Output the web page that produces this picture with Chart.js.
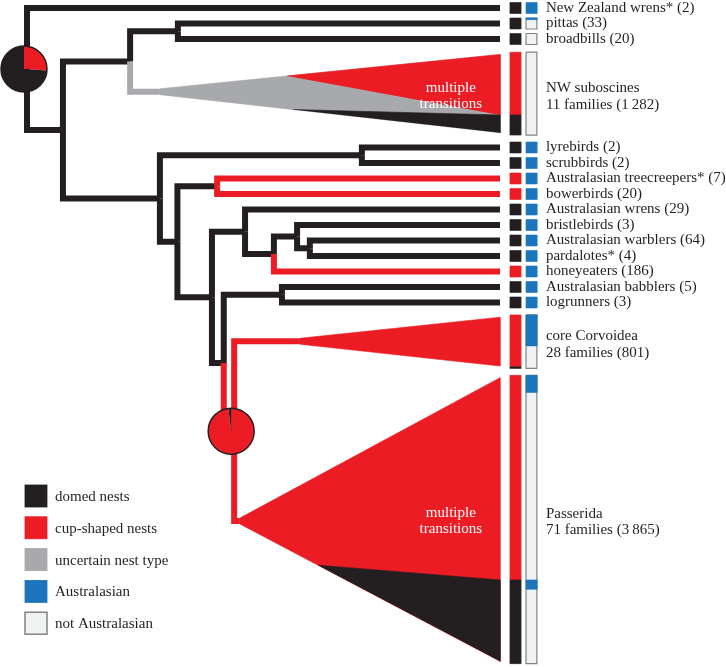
<!DOCTYPE html>
<html>
<head>
<meta charset="utf-8">
<script src="https://cdn.jsdelivr.net/npm/chart.js@4.4.1/dist/chart.umd.min.js"></script>
<style>
    html, body { margin: 0; padding: 0; background: #fff; }
    #contenedor { width: 726px; height: 667px; }
</style>
</head>
<body>
<div id="contenedor"><canvas id="arbolChart" width="726" height="667"></canvas></div>
<script>
// Tips (families) of the tree, top to bottom
const tipNames = ['New Zealand wrens*', 'pittas', 'broadbills', 'lyrebirds', 'scrubbirds',
    'Australasian treecreepers*', 'bowerbirds', 'Australasian wrens', 'bristlebirds',
    'Australasian warblers', 'pardalotes*', 'honeyeaters', 'Australasian babblers', 'logrunners'];
const tipSpecies = [2, 33, 20, 2, 2, 7, 20, 29, 3, 64, 4, 186, 5, 3];
const tipRows = [0, 1, 2, 9, 10, 11, 12, 13, 14, 15, 16, 17, 18, 19];
const tipNest = ['domed', 'domed', 'domed', 'domed', 'domed', 'cup', 'cup', 'domed',
    'domed', 'domed', 'domed', 'cup', 'domed', 'domed'];
const tipAustralasian = [1, 0.15, 0, 1, 1, 1, 1, 1, 1, 1, 1, 1, 1, 1];

// Collapsed clades (wedges)
const cladeNames = ['NW suboscines', 'core Corvoidea', 'Passerida'];
const cladeFamilies = [11, 28, 71];
const cladeSpecies = ['1\u2009282', '801', '3\u2009865'];
const cladeTop = [2.85, 19.8, 23.7];
const cladeBottom = [8.2, 23.25, 42.3];
const cladeStemRow = [5.4, 21.5, 33.1];
const cladeOpen = [28.1, 57.7, 45.0];
const cladeBase = ['uncertain', 'cup', 'cup'];
const cladeSplit = [6.9, 23.15, 36.9];
const cladeCupFrom = [55.0, null, null];
const cladeDomeFrom = [56.2, null, 61.5];
const cladeAustralasian = [[], [[19.8, 21.8]], [[23.7, 24.8], [36.9, 37.5]]];
const cladeNote = ['multiple transitions', '', 'multiple transitions'];

// Internal nodes (depth: root = 0, tips = 100)
const nodeNames = ['root', 'A', 'B', 'C', 'D', 'E', 'F', 'G', 'H', 'I', 'J', 'K', 'L', 'M', 'N', 'O'];
const nodeDepths = [0, 7.6, 21.8, 28.1, 31.9, 70.8, 31.8, 40.2, 39.1, 46.1, 52.2, 57.1, 59.8, 41.6, 53.9, 43.8];

// Branches: parent -> child, with reconstructed nest type
const branchParent = ['root', 'root', 'A', 'A', 'B', 'B', 'D', 'D', 'C', 'C', 'E', 'E', 'F', 'F', 'G', 'G',
    'H', 'H', 'I', 'I', 'J', 'J', 'K', 'K', 'L', 'L', 'M', 'M', 'N', 'N', 'O', 'O'];
const branchChild = ['t0', 'A', 'B', 'C', 'D', 'c0', 't1', 't2', 'E', 'F', 't3', 't4', 'G', 'H', 't5', 't6',
    'I', 'M', 't7', 'J', 'K', 't11', 't8', 'L', 't9', 't10', 'N', 'O', 't12', 't13', 'c1', 'c2'];
const branchState = ['domed', 'domed', 'domed', 'domed', 'domed', 'uncertain', 'domed', 'domed',
    'domed', 'domed', 'domed', 'domed', 'domed', 'domed', 'cup', 'cup',
    'domed', 'domed', 'domed', 'domed', 'domed', 'cup', 'domed', 'domed',
    'domed', 'domed', 'domed', 'cup', 'domed', 'domed', 'cup', 'cup'];

// Ancestral state pies
const pieNodes = ['root', 'O'];
const pieCup = [0.26, 0.98];

const legendLabels = ['domed nests', 'cup-shaped nests', 'uncertain nest type', 'Australasian', 'not Australasian'];
const legendStates = ['domed', 'cup', 'uncertain', 'aus', 'noAus'];

// Estilos
const colores = {
    domed: '#231f20',
    cup: '#ec1c24',
    uncertain: '#a7a9ac',
    aus: '#1c75bc',
    noAus: '#f1f2f2',
    borde: '#808285'
};
const grosorRama = 6;
const mitadRama = 0.19;
const margenCuna = 0.15;
const colNido = [102.1, 104.4];
const colAus = [105.5, 107.8];
const mitadCelda = 0.355;
const xTexto = 109.7;
const xNota = 89.6;
const radioPie = 23;
const desplazaPie = -3; // px, el pie se dibuja algo a la izquierda del nodo
const fuente = '15px "Liberation Serif", "Times New Roman", serif';

let arbolChart;
const datasets = [];

function filaDe(id) {
    if (id[0] === 't') return tipRows[+id.slice(1)];
    if (id[0] === 'c') return cladeStemRow[+id.slice(1)];
    const hijos = branchChild.filter((c, i) => branchParent[i] === id);
    return (filaDe(hijos[0]) + filaDe(hijos[1])) / 2;
}

function profundidadDe(id) {
    if (id[0] === 't') return 100;
    if (id[0] === 'c') return cladeOpen[+id.slice(1)];
    return nodeDepths[nodeNames.indexOf(id)];
}

function rama(puntos, color) {
    datasets.push({
        data: puntos.map(([x, y]) => ({ x, y })),
        showLine: true,
        fill: false,
        borderColor: color,
        borderWidth: grosorRama,
        borderJoinStyle: 'miter',
        borderCapStyle: 'butt',
        pointRadius: 0,
        tension: 0,
        order: -datasets.length
    });
}

function poligono(puntos, relleno, borde, grosor) {
    datasets.push({
        data: puntos.map(([x, y]) => ({ x, y })),
        showLine: true,
        fill: 'shape',
        backgroundColor: relleno,
        borderColor: borde || relleno,
        borderWidth: grosor || 0.6,
        borderJoinStyle: 'miter',
        pointRadius: 0,
        tension: 0,
        order: -datasets.length
    });
}

function rect(x0, x1, y0, y1, relleno, borde, grosor) {
    poligono([[x0, y0], [x1, y0], [x1, y1], [x0, y1], [x0, y0]], relleno, borde, grosor);
}

function construirDatos() {
    // Ramas del arbol
    branchParent.forEach((p, i) => {
        const c = branchChild[i];
        const xp = profundidadDe(p), yp = filaDe(p);
        const xc = profundidadDe(c), yc = filaDe(c);
        rama([[xp, yp], [xp, yc], [xc, yc]], colores[branchState[i]]);
    });

    // Cunas de los clados
    cladeNames.forEach((nombre, i) => {
        const x0 = cladeOpen[i], yc = cladeStemRow[i];
        const arriba = cladeTop[i] + margenCuna, abajo = cladeBottom[i] - margenCuna;
        const bordeSup = x => yc - mitadRama + (arriba - yc + mitadRama) * (x - x0) / (100 - x0);
        const bordeInf = x => yc + mitadRama + (abajo - yc - mitadRama) * (x - x0) / (100 - x0);
        poligono([[x0, yc - mitadRama], [100, arriba], [100, abajo], [x0, yc + mitadRama]], colores[cladeBase[i]]);
        if (cladeCupFrom[i] !== null) {
            poligono([[cladeCupFrom[i], bordeSup(cladeCupFrom[i])], [100, arriba], [100, cladeSplit[i]]], colores.cup);
        }
        if (cladeDomeFrom[i] !== null) {
            poligono([[cladeDomeFrom[i], bordeInf(cladeDomeFrom[i])], [100, cladeSplit[i]], [100, abajo]], colores.domed);
        }
    });

    // Celdas de estado en las puntas
    tipNames.forEach((n, i) => {
        const y0 = tipRows[i] - mitadCelda, y1 = tipRows[i] + mitadCelda;
        rect(colNido[0], colNido[1], y0, y1, colores[tipNest[i]]);
        const frac = tipAustralasian[i];
        if (frac >= 1) {
            rect(colAus[0], colAus[1], y0, y1, colores.aus);
        } else {
            rect(colAus[0], colAus[1], y0, y1, colores.noAus, colores.borde, 1.2);
            if (frac > 0) rect(colAus[0], colAus[1], y0, y0 + frac * (y1 - y0), colores.aus);
        }
    });

    // Barras de los clados
    cladeNames.forEach((n, i) => {
        rect(colNido[0], colNido[1], cladeTop[i], cladeSplit[i], colores.cup);
        rect(colNido[0], colNido[1], cladeSplit[i], cladeBottom[i], colores.domed);
        rect(colAus[0], colAus[1], cladeTop[i], cladeBottom[i], colores.noAus, colores.borde, 1.2);
        cladeAustralasian[i].forEach(([a, b]) => rect(colAus[0], colAus[1], a, b, colores.aus));
    });
}

const dibujoPlugin = {
    id: 'dibujo',
    afterDatasetsDraw(chart) {
        const { ctx, chartArea } = chart;
        const px = v => chart.scales.x.getPixelForValue(v);
        const py = v => chart.scales.y.getPixelForValue(v);
        ctx.save();

        // Pies de estado ancestral
        pieNodes.forEach((id, i) => {
            const cx = px(profundidadDe(id)) + desplazaPie, cy = py(filaDe(id));
            const inicio = -Math.PI / 2;
            const fin = inicio + pieCup[i] * 2 * Math.PI;
            ctx.beginPath();
            ctx.moveTo(cx, cy);
            ctx.arc(cx, cy, radioPie, inicio, fin);
            ctx.closePath();
            ctx.fillStyle = colores.cup;
            ctx.fill();
            ctx.beginPath();
            ctx.moveTo(cx, cy);
            ctx.arc(cx, cy, radioPie, fin, inicio + 2 * Math.PI);
            ctx.closePath();
            ctx.fillStyle = colores.domed;
            ctx.fill();
            ctx.beginPath();
            ctx.arc(cx, cy, radioPie, 0, 2 * Math.PI);
            ctx.lineWidth = 1.5;
            ctx.strokeStyle = colores.domed;
            ctx.stroke();
        });

        // Etiquetas
        ctx.font = fuente;
        ctx.textBaseline = 'middle';
        ctx.textAlign = 'left';
        ctx.fillStyle = colores.domed;
        tipNames.forEach((n, i) => {
            ctx.fillText(`${n} (${tipSpecies[i]})`, px(xTexto), py(tipRows[i]));
        });
        cladeNames.forEach((n, i) => {
            const medio = py((cladeTop[i] + cladeBottom[i]) / 2);
            ctx.fillText(n, px(xTexto), medio - 5.5);
            ctx.fillText(`${cladeFamilies[i]} families (${cladeSpecies[i]})`, px(xTexto), medio + 11);
        });

        // Notas dentro de las cunas
        ctx.fillStyle = '#ffffff';
        ctx.textAlign = 'center';
        cladeNote.forEach((nota, i) => {
            if (!nota) return;
            const medio = py((cladeTop[i] + cladeBottom[i]) / 2);
            const [l1, l2] = nota.split(' ');
            ctx.fillText(l1, px(xNota), medio - 6);
            ctx.fillText(l2, px(xNota), medio + 10);
        });

        // Leyenda
        ctx.textAlign = 'left';
        legendLabels.forEach((etiqueta, i) => {
            const x = chartArea.left + 25;
            const y = chartArea.top + 485 + i * 31.8;
            ctx.fillStyle = colores[legendStates[i]];
            ctx.fillRect(x, y, 22, 22);
            ctx.lineWidth = legendStates[i] === 'noAus' ? 1.5 : 0.8;
            ctx.strokeStyle = legendStates[i] === 'noAus' ? colores.borde : colores[legendStates[i]];
            ctx.strokeRect(x, y, 22, 22);
            ctx.fillStyle = colores.domed;
            ctx.fillText(etiqueta, x + 30, y + 12);
        });

        ctx.restore();
    }
};

function inicializarGrafica() {
    construirDatos();
    const ctx = document.getElementById('arbolChart').getContext('2d');
    arbolChart = new Chart(ctx, {
        type: 'scatter',
        data: { datasets },
        options: {
            responsive: false,
            maintainAspectRatio: false,
            animation: false,
            layout: { padding: 0 },
            plugins: {
                legend: { display: false },
                tooltip: { enabled: false }
            },
            scales: {
                x: { type: 'linear', min: -5.708, max: 147.78, display: false },
                y: { type: 'linear', min: -0.516, max: 42.516, reverse: true, display: false }
            }
        },
        plugins: [dibujoPlugin]
    });
}

document.addEventListener('DOMContentLoaded', () => {
    inicializarGrafica();
});
</script>
</body>
</html>
